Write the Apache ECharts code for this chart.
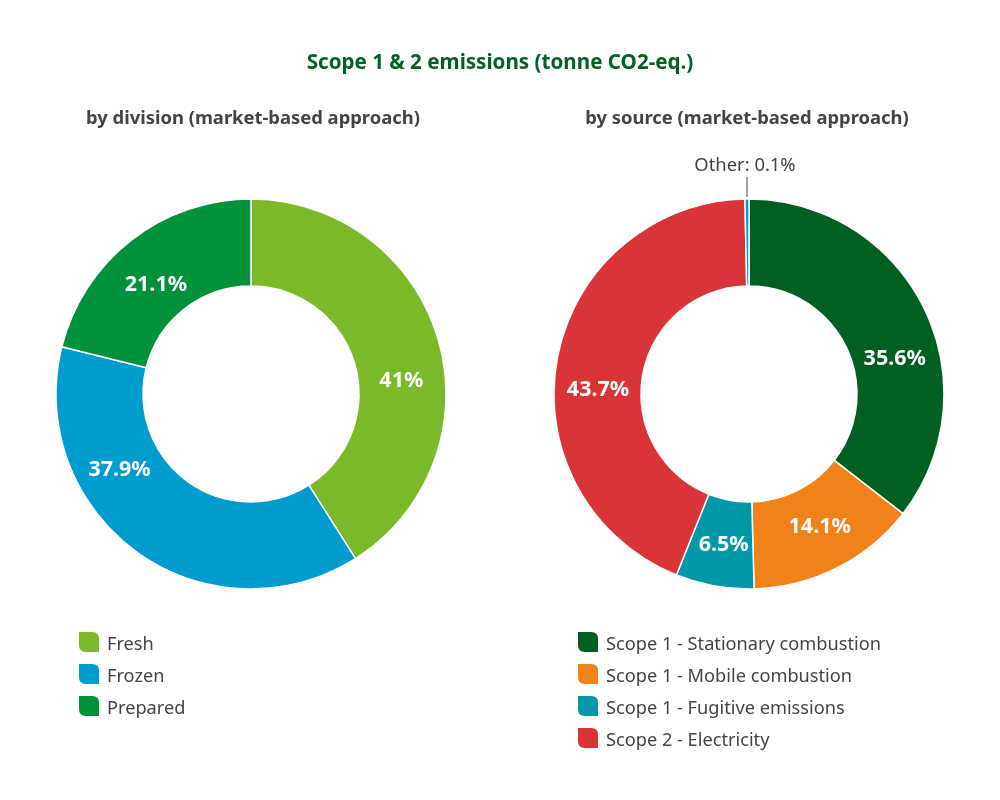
<!DOCTYPE html>
<html><head><meta charset="utf-8">
<style>html,body{margin:0;padding:0;background:#fff}#c{width:1000px;height:800px}</style>
<script src="https://cdn.jsdelivr.net/npm/echarts@6/dist/echarts.min.js"></script>
</head><body><div id="c"></div>
<script>
const chartTitle = 'Scope 1 & 2 emissions (tonne CO2-eq.)';
const divisionTitle = 'by division (market-based approach)';
const sourceTitle = 'by source (market-based approach)';
const divisionNames = ['Fresh','Frozen','Prepared'];
const divisionValues = [41,37.9,21.1];
const divisionColors = ['#7ab929','#009ccf','#00923a'];
const divisionOffsets = [[2,30],[-41,-49],[0,13]];
const sourceNames = ['Scope 1 - Stationary combustion','Scope 1 - Mobile combustion','Scope 1 - Fugitive emissions','Scope 2 - Electricity','Other'];
const sourceValues = [35.6,14.1,6.5,43.7,0.1];
const sourceColors = ['#015f22','#f18119','#0097a7','#d93539','#009ccf'];
const sourceOffsets = [[7,33],[1,-5],[2,-1],[1,24],[0,0]];
const FONT = '"Noto Sans"';
const leaf = 'path://M0,0 L13,0 Q20,0 20,7 L20,20 L7,20 Q0,20 0,13 Z';

function pieSeries(names, values, colors, offsets, cx){
  return {
    type:'pie', center:[cx,394], radius:[108,195], startAngle:90, clockwise:true,
    minAngle:1.2, avoidLabelOverlap:false, animation:false,
    itemStyle:{borderColor:'#fff',borderWidth:1.5},
    emphasis:{disabled:true},
    labelLayout:function(p){
      if(names[p.dataIndex]==='Other'){
        return {x:745,y:166,align:'center',verticalAlign:'middle',
                labelLinePoints:[[747,197],[747,177],[747,177]]};
      }
      return {dx:offsets[p.dataIndex][0],dy:offsets[p.dataIndex][1]};
    },
    data:names.map((n,i)=>{
      const isOther = n==='Other';
      return {
        name:n, value:values[i], itemStyle:{color:colors[i]},
        label: isOther ? {
          show:true, position:'outside', formatter:'{b}: {c}%',
          color:'#444', fontFamily:FONT, fontSize:18.4, fontWeight:'normal'
        } : {
          show:true, position:'inside', formatter:'{c}%',
          color:'#fff', fontFamily:FONT, fontSize:21.5, fontWeight:'bold'
        },
        labelLine: isOther ? {show:true,length:12,length2:0,lineStyle:{color:'#444',width:1}} : {show:false}
      };
    })
  };
}
function legend(names, left, top, gap){
  return {
    orient:'vertical', left, top, padding:0, itemWidth:22, itemHeight:22, itemGap:gap,
    icon:leaf, selectedMode:false, data:names,
    formatter:'{t|{name}}',
    textStyle:{rich:{t:{color:'#444',fontFamily:FONT,fontSize:18.2,padding:[6,0,0,2]}}}
  };
}
const chart = echarts.init(document.getElementById('c'),null,{renderer:'canvas'});
chart.setOption({
  backgroundColor:'#fff', animation:false,
  title:[
    {text:chartTitle,left:495,top:48,textAlign:'center',textStyle:{color:'#006225',fontFamily:FONT,fontSize:20.6,fontWeight:'bold'}},
    {text:divisionTitle,left:248,top:105,textAlign:'center',textStyle:{color:'#444',fontFamily:FONT,fontSize:18.4,fontWeight:'bold'}},
    {text:sourceTitle,left:742,top:105,textAlign:'center',textStyle:{color:'#444',fontFamily:FONT,fontSize:18.4,fontWeight:'bold'}}
  ],
  legend:[
    legend(divisionNames,77,630,8),
    legend(sourceNames.slice(0,4),576,630,8)
  ],
  series:[
    pieSeries(divisionNames,divisionValues,divisionColors,divisionOffsets,251),
    pieSeries(sourceNames,sourceValues,sourceColors,sourceOffsets,749)
  ]
});
</script></body></html>
